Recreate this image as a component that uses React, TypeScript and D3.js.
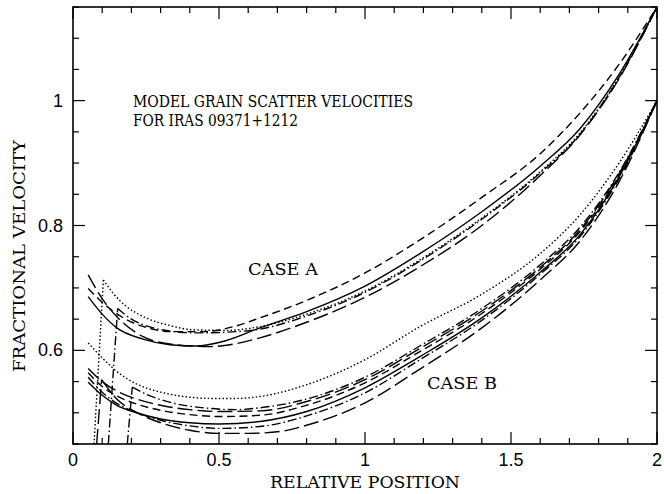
import React from "react";
import * as d3 from "d3";

// ---- axes ----
const xDomain: [number, number] = [0, 2];
const yDomain: [number, number] = [0.45, 1.15];
const xMajorTicks = [0, 0.5, 1, 1.5, 2];
const xTickLabels = ["0", "0.5", "1", "1.5", "2"];
const yMajorTicks = [0.6, 0.8, 1.0];
const yTickLabels = ["0.6", "0.8", "1"];
const xMinorStep = 0.1;
const yMinorStep = 0.05;

// ---- CASE A curves: [relative position, fractional velocity] ----
const caseA_dashed = [[0.052,0.699],[0.1,0.677],[0.184,0.649],[0.25,0.637],[0.332,0.630],[0.45,0.630],[0.55,0.638],[0.64,0.652],[0.8,0.680],[1.0,0.724],[1.188,0.777],[1.4,0.845],[1.6,0.915],[1.736,0.98],[1.87,1.058],[2.0,1.15]];
const caseA_longdash = [[0.052,0.721],[0.104,0.68],[0.15,0.654],[0.24,0.622],[0.35,0.609],[0.47,0.606],[0.55,0.61],[0.64,0.62],[0.8,0.645],[1.0,0.685],[1.188,0.734],[1.4,0.80],[1.6,0.88],[1.736,0.945],[1.87,1.035],[2.0,1.15]];
const caseA_solid = [[0.052,0.686],[0.1,0.658],[0.15,0.636],[0.24,0.618],[0.332,0.609],[0.42,0.607],[0.52,0.615],[0.64,0.636],[0.8,0.662],[1.0,0.703],[1.188,0.755],[1.4,0.822],[1.6,0.895],[1.736,0.955],[1.87,1.042],[2.0,1.15]];
const caseA_dotted_rise = [[0.072,0.45],[0.104,0.713]];
const caseA_dotted = [[0.104,0.713],[0.14,0.69],[0.184,0.670],[0.25,0.652],[0.33,0.640],[0.412,0.633],[0.52,0.632],[0.64,0.638],[0.8,0.658],[1.0,0.695],[1.188,0.745],[1.4,0.812],[1.6,0.886],[1.736,0.948],[1.87,1.038],[2.0,1.15]];
const caseA_dashdot_rise = [[0.121,0.45],[0.153,0.667]];
const caseA_dashdot = [[0.153,0.667],[0.2,0.65],[0.26,0.638],[0.33,0.631],[0.42,0.628],[0.52,0.629],[0.64,0.634],[0.8,0.655],[1.0,0.693],[1.188,0.743],[1.4,0.81],[1.6,0.884],[1.736,0.946],[1.87,1.037],[2.0,1.15]];

// ---- CASE B curves ----
const caseB_dotted = [[0.052,0.612],[0.1,0.588],[0.138,0.571],[0.218,0.546],[0.3,0.533],[0.4,0.525],[0.469,0.523],[0.56,0.523],[0.64,0.526],[0.8,0.545],[1.0,0.585],[1.188,0.638],[1.4,0.69],[1.6,0.755],[1.736,0.817],[1.87,0.9],[2.0,1.0]];
const caseB_dashdot1_rise = [[0.186,0.45],[0.203,0.541]];
const caseB_dashdot1 = [[0.203,0.541],[0.26,0.528],[0.33,0.517],[0.469,0.507],[0.56,0.505],[0.64,0.508],[0.8,0.522],[1.0,0.557],[1.188,0.607],[1.4,0.667],[1.6,0.737],[1.736,0.797],[1.87,0.885],[2.0,1.0]];
const caseB_longdash1 = [[0.052,0.571],[0.1,0.55],[0.15,0.535],[0.218,0.522],[0.3,0.512],[0.4,0.505],[0.5,0.502],[0.64,0.503],[0.8,0.518],[1.0,0.553],[1.188,0.603],[1.4,0.663],[1.6,0.733],[1.736,0.793],[1.87,0.883],[2.0,1.0]];
const caseB_dashed = [[0.052,0.564],[0.1,0.542],[0.15,0.527],[0.218,0.514],[0.3,0.504],[0.4,0.497],[0.5,0.494],[0.64,0.496],[0.8,0.512],[1.0,0.548],[1.188,0.598],[1.4,0.659],[1.6,0.73],[1.736,0.79],[1.87,0.88],[2.0,1.0]];
const caseB_solid = [[0.052,0.549],[0.1,0.528],[0.15,0.512],[0.218,0.5],[0.3,0.49],[0.4,0.484],[0.5,0.482],[0.64,0.486],[0.8,0.502],[1.0,0.54],[1.188,0.59],[1.4,0.652],[1.6,0.725],[1.736,0.785],[1.87,0.878],[2.0,1.0]];
const caseB_dashdot2 = [[0.052,0.557],[0.1,0.533],[0.15,0.515],[0.22,0.5],[0.3,0.488],[0.4,0.479],[0.5,0.475],[0.64,0.478],[0.8,0.495],[1.0,0.532],[1.188,0.585],[1.4,0.648],[1.6,0.722],[1.736,0.782],[1.87,0.875],[2.0,1.0]];
const caseB_longdash2_rise = [[0.081,0.45],[0.098,0.553]];
const caseB_longdash2 = [[0.098,0.553],[0.15,0.522],[0.22,0.5],[0.3,0.484],[0.4,0.472],[0.5,0.467],[0.6,0.467],[0.709,0.47],[0.8,0.48],[1.0,0.516],[1.188,0.57],[1.4,0.636],[1.6,0.713],[1.736,0.775],[1.87,0.87],[2.0,1.0]];

const DASH: Record<string, string | undefined> = {
  solid: undefined,
  dashed: "8,4.5",
  longdash: "15,5",
  dotted: "1.5,2.2",
  dashdot: "9,3,1.5,3",
};

type Curve = { pts: number[][]; rise?: number[][]; style: string };
const curves: Curve[] = [
  { pts: caseA_dashed, style: "dashed" },
  { pts: caseA_longdash, style: "longdash" },
  { pts: caseA_solid, style: "solid" },
  { pts: caseA_dotted, rise: caseA_dotted_rise, style: "dotted" },
  { pts: caseA_dashdot, rise: caseA_dashdot_rise, style: "dashdot" },
  { pts: caseB_dotted, style: "dotted" },
  { pts: caseB_dashdot1, rise: caseB_dashdot1_rise, style: "dashdot" },
  { pts: caseB_longdash1, style: "longdash" },
  { pts: caseB_dashed, style: "dashed" },
  { pts: caseB_solid, style: "solid" },
  { pts: caseB_dashdot2, style: "dashdot" },
  { pts: caseB_longdash2, rise: caseB_longdash2_rise, style: "longdash" },
];

const W = 664, H = 494;
const M = { left: 73, right: 657, top: 7, bottom: 444 };

export default function App() {
  const x = d3.scaleLinear().domain(xDomain).range([M.left, M.right]);
  const y = d3.scaleLinear().domain(yDomain).range([M.bottom, M.top]);
  const smooth = d3.line<number[]>().x(d => x(d[0])).y(d => y(d[1])).curve(d3.curveMonotoneX);
  const straight = d3.line<number[]>().x(d => x(d[0])).y(d => y(d[1]));

  const xMinor = d3.range(Math.round((xDomain[1] - xDomain[0]) / xMinorStep) + 1).map(i => xDomain[0] + i * xMinorStep);
  const yMinor = d3.range(Math.round((yDomain[1] - yDomain[0]) / yMinorStep) + 1).map(i => yDomain[0] + i * yMinorStep);
  const isMajorX = (v: number) => xMajorTicks.some(t => Math.abs(t - v) < 1e-6);
  const isMajorY = (v: number) => yMajorTicks.some(t => Math.abs(t - v) < 1e-6);

  const serif = "'DejaVu Serif', 'Liberation Serif', serif";
  const sans = "'Liberation Sans', Arial, sans-serif";

  return (
    <svg width={W} height={H} style={{ position: "absolute", left: 0, top: 0, background: "#fff" }}>
      <defs>
        <clipPath id="plot">
          <rect x={M.left} y={M.top} width={M.right - M.left} height={M.bottom - M.top} />
        </clipPath>
      </defs>
      <rect x={0} y={0} width={W} height={H} fill="#fff" />
      <g clipPath="url(#plot)" fill="none" stroke="#000" strokeWidth={1.4}>
        {curves.map((c, i) => (
          <g key={i}>
            {c.rise && <path d={straight(c.rise) || ""} strokeDasharray={DASH[c.style]} />}
            <path d={smooth(c.pts) || ""} strokeDasharray={DASH[c.style]} />
          </g>
        ))}
      </g>
      <rect x={M.left} y={M.top} width={M.right - M.left} height={M.bottom - M.top} fill="none" stroke="#000" strokeWidth={1.6} />
      <g stroke="#000" strokeWidth={1.2}>
        {xMinor.map((v, i) => {
          const len = isMajorX(v) ? 12 : 6;
          return (
            <g key={i}>
              <line x1={x(v)} x2={x(v)} y1={M.bottom} y2={M.bottom - len} />
              <line x1={x(v)} x2={x(v)} y1={M.top} y2={M.top + len} />
            </g>
          );
        })}
        {yMinor.map((v, i) => {
          const len = isMajorY(v) ? 12 : 6;
          return (
            <g key={i}>
              <line x1={M.left} x2={M.left + len} y1={y(v)} y2={y(v)} />
              <line x1={M.right} x2={M.right - len} y1={y(v)} y2={y(v)} />
            </g>
          );
        })}
      </g>
      <g fontFamily={sans} fontSize={18} fill="#000">
        {xMajorTicks.map((v, i) => (
          <text key={i} x={x(v)} y={M.bottom + 22} textAnchor="middle">{xTickLabels[i]}</text>
        ))}
        {yMajorTicks.map((v, i) => (
          <text key={i} x={M.left - 10} y={y(v) + 6} textAnchor="end">{yTickLabels[i]}</text>
        ))}
      </g>
      <g fontFamily={serif} fontSize={17} fill="#000">
        <text x={365} y={488} textAnchor="middle" textLength={190} lengthAdjust="spacingAndGlyphs">RELATIVE POSITION</text>
        <text transform={`translate(25,${256}) rotate(-90)`} textAnchor="middle" textLength={232} lengthAdjust="spacingAndGlyphs">FRACTIONAL VELOCITY</text>
        <text x={133} y={107} textLength={280} lengthAdjust="spacingAndGlyphs">MODEL GRAIN SCATTER VELOCITIES</text>
        <text x={133} y={126} textLength={165} lengthAdjust="spacingAndGlyphs">FOR IRAS 09371+1212</text>
        <text x={248} y={275} textLength={70} lengthAdjust="spacingAndGlyphs">CASE A</text>
        <text x={427} y={389} textLength={70} lengthAdjust="spacingAndGlyphs">CASE B</text>
      </g>
    </svg>
  );
}
